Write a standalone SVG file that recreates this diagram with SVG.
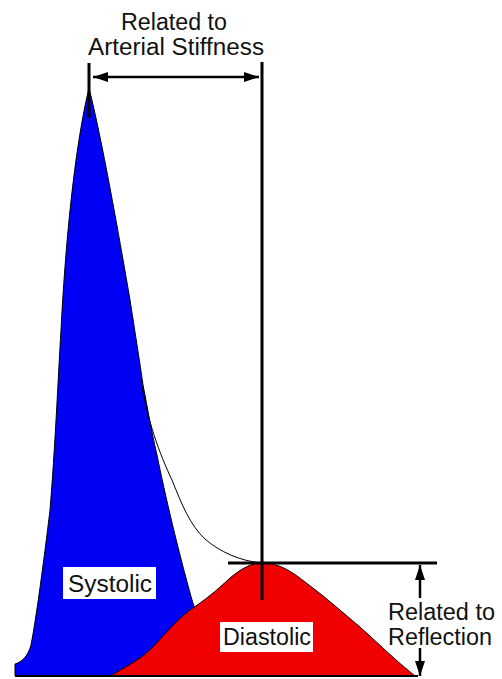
<svg xmlns="http://www.w3.org/2000/svg" width="502" height="679" viewBox="0 0 502 679">
<style>
text{font-family:"Liberation Sans",Arial,sans-serif;font-size:23px;fill:#111}
.bar{stroke:#000;stroke-width:3;fill:none}
.thin{stroke:#000;stroke-width:1;fill:none}
.box{fill:#fff}
</style>
<defs>
<marker id="ah" viewBox="0 0 15 10" refX="15" refY="5" markerWidth="15" markerHeight="10" markerUnits="userSpaceOnUse" orient="auto-start-reverse">
<path d="M0,0 L15,5 L0,10 Z" fill="#000"/>
</marker>
</defs>
<rect width="502" height="679" fill="#fff"/>
<g id="systolic">
<path d="M15,676 L15,664 C22,662 28,656 31,645 C36,620 44,560 50,510 C55,450 58,380 61,330 C65,250 74,150 89,88 C102,140 118,230 130,300 C137,345 141,370 143,385 C148,410 150,425 157,455 C165,495 178,550 192,600 L200,625 L215,676 Z" fill="#0000f5" stroke="#000" stroke-width="1"/>
<rect class="box" x="63" y="567" width="93" height="32"/>
<text x="68" y="592" textLength="84" lengthAdjust="spacingAndGlyphs">Systolic</text>
</g>
<g id="diastolic">
<path d="M110,676 C120,670 128,666 140,658 C155,648 170,625 190,610 C205,600 215,592 230,578 C242,568 252,563 262,563 C280,563 292,572 305,582 C320,593 340,610 360,627 C380,645 395,660 415,676 Z" fill="#f00000" stroke="#000" stroke-width="1"/>
<rect class="box" x="220" y="622" width="93" height="30"/>
<text x="223" y="645" textLength="88" lengthAdjust="spacingAndGlyphs">Diastolic</text>
</g>
<g id="connectors">
<path class="thin" d="M141,380 C147,420 160,455 172,480 C182,505 190,525 205,539 C220,552 240,561 262,563"/>
<line class="bar" x1="89" y1="63" x2="89" y2="118"/>
<line class="bar" x1="262" y1="62" x2="262" y2="600"/>
<line class="bar" x1="228" y1="563" x2="437" y2="563"/>
<line x1="15" y1="676" x2="418" y2="676" stroke="#000" stroke-width="2"/>
<line x1="93" y1="77" x2="259" y2="77" stroke="#000" stroke-width="2.5" marker-start="url(#ah)" marker-end="url(#ah)"/>
<line x1="420" y1="598" x2="420" y2="565" stroke="#000" stroke-width="2.5" marker-end="url(#ah)"/>
<line x1="420" y1="648" x2="420" y2="676" stroke="#000" stroke-width="2.5" marker-end="url(#ah)"/>
</g>
<g id="label-stiffness">
<text x="121" y="30" textLength="106" lengthAdjust="spacingAndGlyphs">Related to</text>
<text x="88" y="55" textLength="176" lengthAdjust="spacingAndGlyphs">Arterial Stiffness</text>
</g>
<g id="label-reflection">
<text x="388" y="620" textLength="107" lengthAdjust="spacingAndGlyphs">Related to</text>
<text x="388" y="645" textLength="104" lengthAdjust="spacingAndGlyphs">Reflection</text>
</g>
</svg>
